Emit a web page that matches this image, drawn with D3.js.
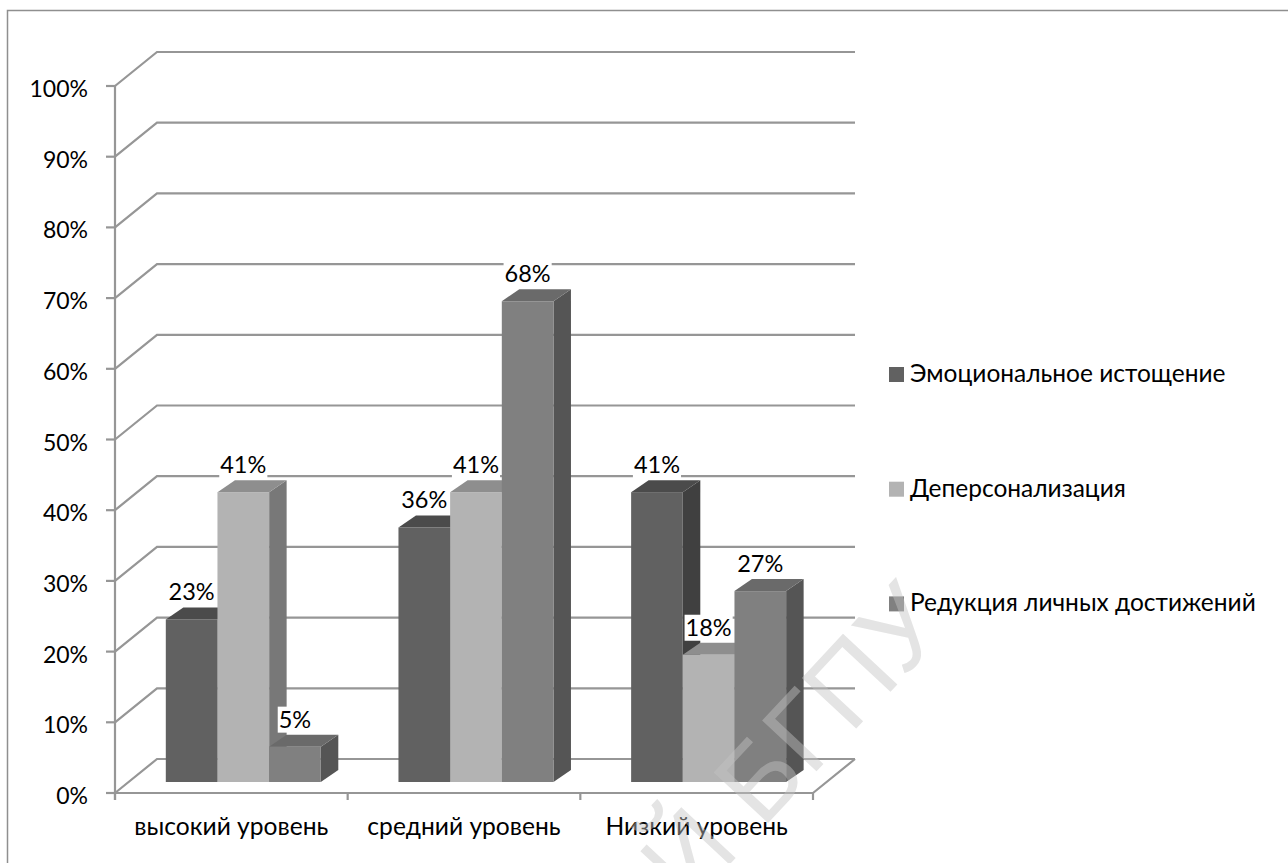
<!DOCTYPE html>
<html><head><meta charset="utf-8">
<script src="https://cdn.jsdelivr.net/npm/d3@7"></script>
<style>
html,body{margin:0;padding:0;background:#fff;}
svg{display:block;}
text{font-family:Lato,"Open Sans",sans-serif;fill:#000;}
</style></head>
<body>
<svg id="chart" width="1288" height="863"></svg>
<script>
const categories = ["высокий уровень", "средний уровень", "Низкий уровень"];
const seriesNames = ["Эмоциональное истощение", "Деперсонализация", "Редукция личных достижений"];
const emotional = [23, 36, 41];
const depersonal = [41, 41, 18];
const reduction = [5, 68, 27];
const tickValues = [0, 10, 20, 30, 40, 50, 60, 70, 80, 90, 100];
const tickLabels = ["0%", "10%", "20%", "30%", "40%", "50%", "60%", "70%", "80%", "90%", "100%"];
const watermarkText = "РЕПОЗИТОРИЙ БГПУ";

const seriesValues = [emotional, depersonal, reduction];
const faceColors = [
  {front: "#616161", top: "#4b4b4b", side: "#404040"},
  {front: "#b3b3b3", top: "#8e8e8e", side: "#787878"},
  {front: "#808080", top: "#6a6a6a", side: "#555555"}
];

const svg = d3.select("#chart");

// frame
svg.append("rect").attr("x", 7.5).attr("y", 10.5).attr("width", 1300).attr("height", 900)
  .attr("fill", "none").attr("stroke", "#8f8f8f").attr("stroke-width", 1.5);

const y = d3.scaleLinear().domain([0, 100]).range([793, 86]);
const x = d3.scaleBand().domain(categories).range([115, 813]);
const xs = d3.scaleBand().domain(seriesNames).range([38.8, 193.8]);
const depth = {dx: 42, dy: -34};
const barShift = {dx: 12, dy: -11};
const barDepth = {dx: 17.5, dy: -12};
const backRight = 855;

const gridColor = "#969696";
const grid = svg.append("g").attr("fill", "none").attr("stroke", gridColor).attr("stroke-width", 2.2);
tickValues.forEach(t => {
  const yy = y(t);
  grid.append("path").attr("d", `M115,${yy}L${115 + depth.dx},${yy + depth.dy}L${backRight},${yy + depth.dy}`);
});
grid.append("path").attr("d", `M${backRight},${y(0) + depth.dy}L${backRight - depth.dx},${y(0)}L115,${y(0)}`);
grid.append("path").attr("d", `M115,${y(0) + 7}L115,${y(100)}`);
tickValues.forEach(t => {
  grid.append("path").attr("d", `M106,${y(t)}L115,${y(t)}`);
});
const catEdges = categories.map(c => x(c)).concat([x.range()[1]]);
catEdges.forEach(e => {
  grid.append("path").attr("d", `M${e},${y(0)}L${e},${y(0) + 7}`);
});

// y tick labels
svg.append("g").selectAll("text").data(tickValues).join("text")
  .attr("x", 88).attr("y", d => y(d) + 11)
  .attr("text-anchor", "end").attr("font-size", 23)
  .text((d, i) => tickLabels[i]);

// category labels
svg.append("g").selectAll("text").data(categories).join("text")
  .attr("x", d => x(d) + x.bandwidth() / 2).attr("y", 835)
  .attr("text-anchor", "middle").attr("font-size", 24.6)
  .text(d => d);

// bars
const bw = xs.bandwidth();
const bars = [];
categories.forEach((c, ci) => {
  seriesNames.forEach((s, si) => {
    const v = seriesValues[si][ci];
    const x0 = x(c) + xs(s) + barShift.dx;
    const x1 = x0 + bw;
    const yt = y(v) + barShift.dy;
    const yb = y(0) + barShift.dy;
    bars.push({ci, si, v, x0, x1, yt, yb});
  });
});
const barG = svg.append("g");
bars.forEach(b => {
  const col = faceColors[b.si];
  const g = barG.append("g");
  g.append("path").attr("fill", col.side)
    .attr("d", `M${b.x1},${b.yt}L${b.x1 + barDepth.dx},${b.yt + barDepth.dy}L${b.x1 + barDepth.dx},${b.yb + barDepth.dy}L${b.x1},${b.yb}Z`);
  g.append("path").attr("fill", col.top)
    .attr("d", `M${b.x0},${b.yt}L${b.x0 + barDepth.dx},${b.yt + barDepth.dy}L${b.x1 + barDepth.dx},${b.yt + barDepth.dy}L${b.x1},${b.yt}Z`);
  g.append("rect").attr("fill", col.front)
    .attr("x", b.x0).attr("y", b.yt).attr("width", bw).attr("height", b.yb - b.yt);
});

// data labels
const lblG = svg.append("g");
bars.forEach(b => {
  const t = lblG.append("text")
    .attr("x", (b.x0 + b.x1) / 2).attr("y", b.yt - 19)
    .attr("text-anchor", "middle").attr("font-size", 23.5)
    .text(b.v + "%");
  const bb = t.node().getBBox();
  lblG.insert("rect", () => t.node())
    .attr("x", bb.x - 1).attr("y", bb.y + 2).attr("width", bb.width + 2).attr("height", bb.height - 2)
    .attr("fill", "#fff");
});

// legend
const lg = svg.append("g");
seriesNames.forEach((s, i) => {
  const yy = 367 + i * 114.7;
  lg.append("rect").attr("x", 889).attr("y", yy).attr("width", 15).attr("height", 15)
    .attr("fill", faceColors[i].front);
  lg.append("text").attr("x", 910).attr("y", yy + 15).attr("font-size", 24.5).text(s);
});

// watermark
svg.append("text")
  .attr("transform", "translate(950,628) rotate(-47)")
  .attr("text-anchor", "end")
  .style("font-family", "'Liberation Sans', Arial, sans-serif")
  .attr("font-size", 108)
  .style("fill", "#c4c4c4").attr("opacity", 0.45)
  .text(watermarkText);
</script>
</body></html>
